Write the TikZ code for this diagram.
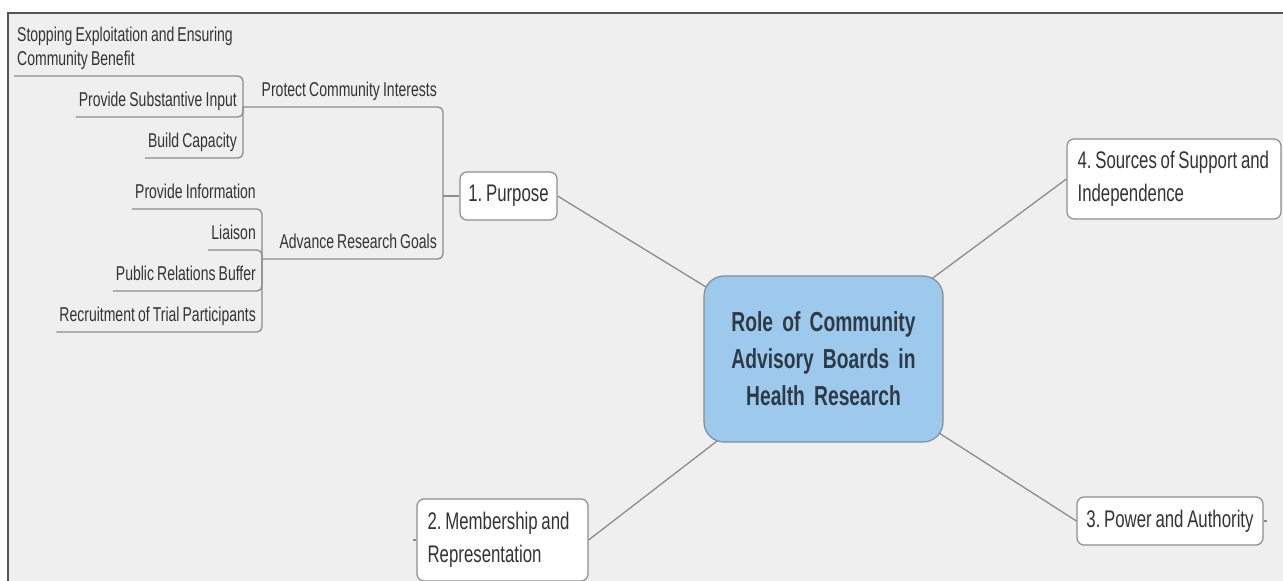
\documentclass[tikz,border=0pt]{standalone}
\usepackage{fontspec}
\setmainfont[FakeStretch=0.70, WordSpace=0.8]{Liberation Sans}
\usetikzlibrary{backgrounds}
\definecolor{bgc}{HTML}{EEEFEE}
\definecolor{framec}{HTML}{555555}
\definecolor{txt}{HTML}{333333}
\definecolor{linec}{HTML}{8C8C8C}
\definecolor{nodeborder}{HTML}{8E8E8E}
\definecolor{rootfill}{HTML}{9DC9EC}
\definecolor{rootborder}{HTML}{7F8E9C}
\definecolor{roottxt}{HTML}{2E3B47}
\tikzset{
  topic/.style={draw=nodeborder, fill=white, rounded corners=7pt, line width=1.2pt,
    font=\fontsize{24}{33}\selectfont, text=txt, inner sep=0pt},
  topictext/.style={font=\fontsize{24}{33}\selectfont, text=txt, inner sep=0pt, align=left},
  leaf/.style={font=\fontsize{20}{24}\selectfont, text=txt, inner xsep=3pt, inner ysep=0pt, text depth=10pt},
  link/.style={draw=linec, line width=1.3pt, rounded corners=5pt},
  mainlink/.style={draw=linec, line width=1.3pt},
}
\begin{document}
\frenchspacing
\begin{tikzpicture}[x=1pt,y=-1pt]
\useasboundingbox (0,0) rectangle (1283,581);
\begin{scope}[on background layer]
  \fill[white] (0,0) rectangle (1283,581);
  \fill[bgc] (8,13) rectangle (1283,581);
  \draw[framec, line width=1.5pt] (8,581) -- (8,13) -- (1283,13);
\end{scope}

% main topics
\node[topic, fill=rootfill, draw=rootborder, rounded corners=20pt, minimum width=239pt, minimum height=166pt,
      text width=225pt, align=center, text=roottxt, font=\bfseries\fontsize{27.5}{37}\selectfont]
      (root) at (823.5,359) {Role of Community\\Advisory Boards in\\Health Research};
\node[topic, minimum width=97pt, minimum height=48pt] (purpose) at (508.5,196) {1. Purpose};
\node[topic, minimum width=214pt, minimum height=80pt] (n4) at (1174,179) {};
\node[topictext, anchor=west] (n4t) at ([xshift=11pt]n4.west) {4. Sources of Support and\\Independence};
\node[topic, minimum width=171pt, minimum height=82pt] (n2) at (502.5,540) {};
\node[topictext, anchor=west] (n2t) at ([xshift=11pt]n2.west) {2. Membership and\\Representation};
\node[topic, minimum width=186pt, minimum height=48pt] (n3) at (1170,521) {3. Power and Authority};

% junction coordinates
\coordinate (j1) at (243,107);
\coordinate (j2) at (262,259);
\coordinate (jp) at (443,196);
\coordinate (t2) at (413,540);
\coordinate (t3) at (1267,521);

% leaf texts
\node[leaf, anchor=south west, align=left] (stop) at (14,76) {Stopping Exploitation and Ensuring\\Community Benefit};
\node[leaf, anchor=south east] (psi) at (240,117) {Provide Substantive Input};
\node[leaf, anchor=south east] (bc) at (240,158) {Build Capacity};
\node[leaf, anchor=south east] (pci) at (440,107) {Protect Community Interests};
\node[leaf, anchor=south east] (pinfo) at (259,209) {Provide Information};
\node[leaf, anchor=south east] (lia) at (259,250) {Liaison};
\node[leaf, anchor=south east] (prb) at (259,291) {Public Relations Buffer};
\node[leaf, anchor=south east] (rec) at (259,332) {Recruitment of Trial Participants};
\node[leaf, anchor=south east] (arg) at (440,259) {Advance Research Goals};

% connectors
\begin{scope}[on background layer]
  \draw[mainlink] (root.center) -- (purpose.east);
  \draw[mainlink] (root.center) -- (n4.west);
  \draw[mainlink] (root.center) -- (n2.east);
  \draw[mainlink] (root.center) -- (n3.west);
  \draw[mainlink] (n2.west) -- (t2);
  \draw[mainlink] (n3.east) -- (t3);
  \draw[mainlink] (jp) -- (purpose.west);
  \draw[link] (stop.south west) -- (stop.south west -| j1) -- (j1);
  \draw[link] (psi.south west) -- (psi.south west -| j1) -- (j1);
  \draw[link] (bc.south west) -- (bc.south west -| j1) -- (j1);
  \draw[link] (j1) -- (j1 -| jp) -- (jp);
  \draw[link] (pinfo.south west) -- (pinfo.south west -| j2) -- (j2);
  \draw[link] (lia.south west) -- (lia.south west -| j2) -- (j2);
  \draw[link] (prb.south west) -- (prb.south west -| j2) -- (j2);
  \draw[link] (rec.south west) -- (rec.south west -| j2) -- (j2);
  \draw[link] (j2) -- (j2 -| jp) -- (jp);
\end{scope}
\end{tikzpicture}
\end{document}
